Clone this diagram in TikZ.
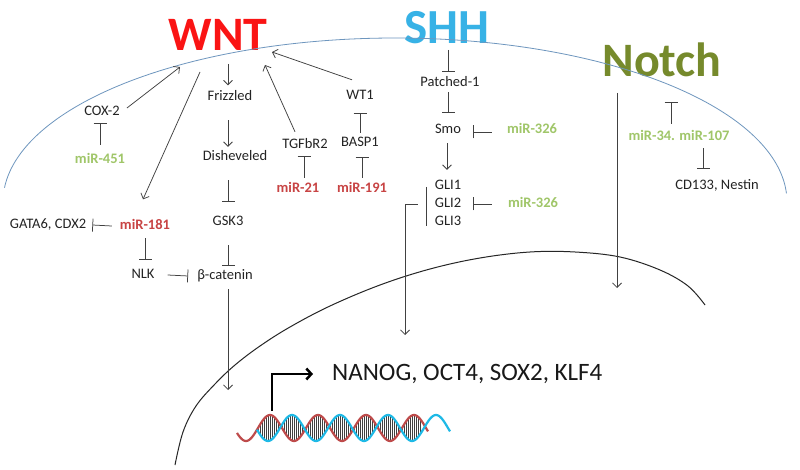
\documentclass[tikz,border=0pt]{standalone}
\usepackage{fontspec}
\setmainfont{Carlito}
\usetikzlibrary{arrows.meta,calc}
\definecolor{wntred}{RGB}{250,20,20}
\definecolor{shhblue}{RGB}{55,178,230}
\definecolor{notchgreen}{RGB}{118,138,44}
\definecolor{mirgreen}{RGB}{160,198,105}
\definecolor{mirred}{RGB}{200,68,68}
\definecolor{membrane}{RGB}{110,150,190}
\definecolor{lnk}{RGB}{65,65,65}
\definecolor{txt}{RGB}{35,35,35}
\definecolor{dnared}{RGB}{190,75,75}
\definecolor{dnacyan}{RGB}{30,185,230}
\begin{document}
\begin{tikzpicture}[x=1pt,y=-1pt,
  lbl/.style={font=\fontsize{14.5}{16}\selectfont, text=txt, inner sep=1pt, text height=10pt, text depth=3pt},
  mirg/.style={lbl, font=\fontsize{14.5}{16}\selectfont\bfseries, text=mirgreen},
  mirr/.style={lbl, font=\fontsize{14.5}{16}\selectfont\bfseries, text=mirred},
  act/.style={draw=lnk, line width=0.75pt, -{Straight Barb[length=4.5pt,width=9pt]}},
  inh/.style={draw=lnk, line width=0.75pt, -{Bar[width=13pt]}},
  title/.style={inner sep=0pt, font=\fontsize{#1}{#1}\selectfont\bfseries},
  tx/.style={draw=black, line width=2.5pt, -{Straight Barb[length=5pt,width=11pt]}},
]
\fill[white] (0,0) rectangle (800,470);
\useasboundingbox (0,0) rectangle (800,470);

% titles
\node[title=48, text=wntred] (wnt) at (218,35) {WNT};
\node[title=49, text=shhblue] (shh) at (447,28) {SHH};
\node[title=48, text=notchgreen] (notch) at (662,60) {Notch};

% membrane and nucleus
\draw[membrane, line width=0.8pt] plot[domain=175:3, samples=120, smooth] ({395+392*cos(\x)},{202-164*sin(\x)});
\draw[black!85, line width=1pt] plot[smooth, tension=0.6] coordinates {(175,465) (183,432) (196,406) (215,384) (235,365) (260,346) (290,327) (330,306) (380,285) (430,269) (480,258) (530,252) (575,252) (620,257) (660,270) (688,286) (705,305)};

% WNT branch
\node[lbl] (cox) at (102,112) {COX-2};
\node[mirg] (m451) at (100,160) {miR-451};
\node[lbl] (friz) at (230,97) {Frizzled};
\node[lbl] (dish) at (235,157) {Disheveled};
\node[lbl] (gsk) at (228,222) {GSK3};
\node[lbl] (tgf) at (305,145) {TGFbR2};
\node[lbl] (wt1) at (360,96) {WT1};
\node[lbl] (basp) at (360,143) {BASP1};
\node[mirr] (m21) at (298,189) {miR-21};
\node[mirr] (m191) at (362,189) {miR-191};
\node[lbl] (gata) at (48,225) {GATA6, CDX2};
\node[mirr] (m181) at (145,226) {miR-181};
\node[lbl] (nlk) at (143,275) {NLK};
\node[lbl] (bcat) at (225,276) {β-catenin};

% SHH branch
\node[lbl] (patch) at (450,83) {Patched-1};
\node[lbl] (smo) at (448,130) {Smo};
\node[mirg] (m326a) at (532,130) {miR-326};
\node[lbl] (gli1) at (448,186) {GLI1};
\node[lbl] (gli2) at (448,204) {GLI2};
\node[lbl] (gli3) at (448,222) {GLI3};
\node[mirg] (m326b) at (533,204) {miR-326};

% Notch branch
\node[mirg] (m34) at (679,137) {miR-34. miR-107};
\node[lbl] (cd) at (717,186) {CD133, Nestin};

% nucleus target
\node[anchor=base west, inner sep=0pt, font=\fontsize{25}{28}\selectfont, text=black!90] (nanog) at (332,380) {NANOG, OCT4, SOX2, KLF4};

\coordinate (bcatout) at (228,390);
\coordinate (gliout) at (405,335);
\coordinate (notchout) at (617,288);
\coordinate (tss) at (272,411);

% WNT connectors
\draw[act] ($(cox.east)+(6,-4)$) -- ($(wnt)+(-38,32)$);
\draw[inh] ($(m451.north)+(0,-7.5)$) -- ($(cox.south)+(-2,3.5)$);
\draw[act] ($(wnt)+(-18,37)$) -- ($(m181.north)+(-2,-19)$);
\draw[act] ($(wnt)+(10,29)$) -- ($(friz.north)+(-2,-4)$);
\draw[act] ($(friz.south)+(-2,15.5)$) -- ($(dish.north)+(-7,-2.5)$);
\draw[inh] ($(dish.south)+(-7,15.5)$) -- ($(gsk.north)+(0,-12.5)$);
\draw[inh] ($(gsk.south)+(0,15.5)$) -- ($(bcat.north)+(3,-2.5)$);
\draw[act] ($(bcat.south)+(3,5.5)$) -- (bcatout);
\draw[act] ($(tgf.north)+(-10,-5.5)$) -- ($(wnt)+(47,30)$);
\draw[act] ($(wt1.north)+(-8,-8.5)$) -- ($(wnt)+(54,17)$);
\draw[inh] ($(basp.north)+(0,-2.5)$) -- ($(wt1.south)+(0,9.5)$);
\draw[inh] ($(m21.north)+(6,-3.5)$) -- ($(tgf.south)+(-1,3.5)$);
\draw[inh] ($(m191.north)+(0,-3.5)$) -- ($(basp.south)+(2,6.5)$);
\draw[inh] ($(m181.west)+(-7,0)$) -- ($(gata.east)+(5,0)$);
\draw[inh] ($(m181.south)+(0,4.5)$) -- ($(nlk.north)+(2,-7.5)$);
\draw[inh] ($(nlk.east)+(12,0)$) -- ($(bcat.west)+(-8,0)$);

% SHH connectors
\draw[inh] ($(shh)+(1,22)$) -- ($(patch.north)+(-2,-3.5)$);
\draw[inh] ($(patch.south)+(-2,1.5)$) -- ($(smo.north)+(0,-9.5)$);
\draw[inh] ($(m326a.west)+(-14,2)$) -- ($(smo.east)+(10.5,2)$);
\draw[act] ($(smo.south)+(-1,5.5)$) -- ($(gli1.north)+(-1,-8.5)$);
\draw[lnk, line width=0.75pt] ($(gli1.west)+(-7,1)$) -- ($(gli3.west)+(-7,4)$);
\draw[inh] ($(m326b.west)+(-15,0)$) -- ($(gli2.east)+(10.5,0)$);
\draw[act] ($(gli2.west)+(-16,0)$) -| (gliout);

% Notch connectors
\draw[act] ($(notch)+(-45,33)$) -- (notchout);
\draw[inh] ($(m34.north)+(-8,-5.5)$) -- ($(notch)+(9,42)$);
\draw[inh] ($(m34.south)+(24,3.5)$) -- ($(cd.north)+(-14,-9.5)$);

% DNA
\foreach \x in {258,260,...,420}
  \draw[black!75, line width=0.35pt] (\x,{428-13*cos(7.5*(\x-270))}) -- (\x,{428-13*cos(7.5*(\x-292))});
\draw[dnared, line width=2.2pt] plot[domain=237:428, samples=160, smooth] (\x,{428-13*cos(7.5*(\x-270))});
\draw[dnacyan, line width=2.2pt] plot[domain=257:450, samples=160, smooth] (\x,{428-13*cos(7.5*(\x-292))});

% transcription start arrow
\draw[tx] (tss) |- ($(nanog.base west)+(-19,-6)$);
\end{tikzpicture}
\end{document}
